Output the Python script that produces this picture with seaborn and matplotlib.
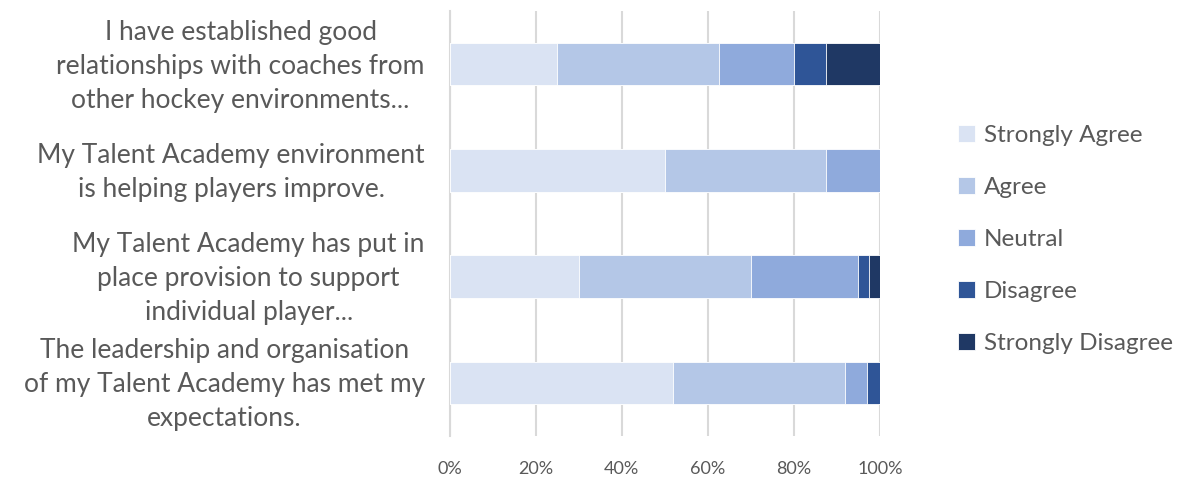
import numpy as np
import pandas as pd
import matplotlib
matplotlib.use("Agg")
import matplotlib.pyplot as plt
import matplotlib.transforms as mtransforms
import seaborn as sns
from matplotlib.ticker import FuncFormatter, FixedLocator

questions = [
    "I have established good\nrelationships with coaches from\nother hockey environments...",
    "My Talent Academy environment\nis helping players improve.",
    "My Talent Academy has put in\nplace provision to support\nindividual player...",
    "The leadership and organisation\nof my Talent Academy has met my\nexpectations.",
]
levels = ["Strongly Agree", "Agree", "Neutral", "Disagree", "Strongly Disagree"]
strongly_agree = [25, 50, 30, 52]
agree = [37.5, 37.5, 40, 40]
neutral = [17.5, 12.5, 25, 5]
disagree = [7.5, 0, 2.5, 3]
strongly_disagree = [12.5, 0, 2.5, 0]
colors = ["#DAE3F3", "#B4C7E7", "#8FAADC", "#2F5597", "#1F3864"]

df = pd.DataFrame({"question": questions,
                   "Strongly Agree": strongly_agree,
                   "Agree": agree,
                   "Neutral": neutral,
                   "Disagree": disagree,
                   "Strongly Disagree": strongly_disagree})
cum = df[levels].cumsum(axis=1)
cum["question"] = df["question"]

sns.set_style("white")
plt.rcParams["font.family"] = ["Lato", "DejaVu Sans"]
text_color = "#595959"
grid_color = "#D9D9D9"

fig = plt.figure(figsize=(11.9, 4.84), dpi=100)
ax = fig.add_axes([0.378, 0.0992, 0.3613, 0.8781])

# stacked bars: draw cumulative totals from the widest down
for level, color in reversed(list(zip(levels, colors))):
    sns.barplot(data=cum, y="question", x=level, color=color, orient="h",
                width=0.4, ax=ax, edgecolor="white", linewidth=0.6,
                saturation=1, label=level, zorder=3)
handles, labels = ax.get_legend_handles_labels()
if ax.get_legend() is not None:
    ax.get_legend().remove()

ax.set_xlim(0, 100)
ax.set_ylim(3.5, -0.5)
ax.xaxis.set_major_locator(FixedLocator([0, 20, 40, 60, 80, 100]))
ax.xaxis.set_major_formatter(FuncFormatter(lambda v, p: f"{v:.0f}%"))
ax.grid(axis="x", color=grid_color, linewidth=1.5, zorder=0)
ax.set_axisbelow(True)
for s in ["top", "right", "bottom"]:
    ax.spines[s].set_visible(False)
ax.spines["left"].set_color(grid_color)
ax.spines["left"].set_linewidth(1.5)
ax.set_xlabel("")
ax.set_ylabel("")

ax.tick_params(axis="x", length=0, labelsize=13, labelcolor=text_color, pad=18)
ax.tick_params(axis="y", which="major", length=0, labelsize=19,
               labelcolor=text_color, pad=18)
ax.yaxis.set_minor_locator(FixedLocator([-0.5, 0.5, 1.5, 2.5, 3.5]))
ax.tick_params(axis="y", which="minor", length=6, width=1.5, color=grid_color)
shift = mtransforms.ScaledTranslation(0, 5 / 100, fig.dpi_scale_trans)
for lab in ax.get_yticklabels():
    lab.set_multialignment("center")
    lab.set_linespacing(1.45)
    lab.set_transform(lab.get_transform() + shift)

order = [labels.index(l) for l in levels]
fig.legend([handles[i] for i in order], levels, loc="center left",
           bbox_to_anchor=(0.797, 0.505), frameon=False, fontsize=17.5,
           labelcolor=text_color, handlelength=0.7, handleheight=0.7,
           handletextpad=0.35, labelspacing=1.27, borderaxespad=0)

fig.savefig("out.png", dpi=100, facecolor="white")
